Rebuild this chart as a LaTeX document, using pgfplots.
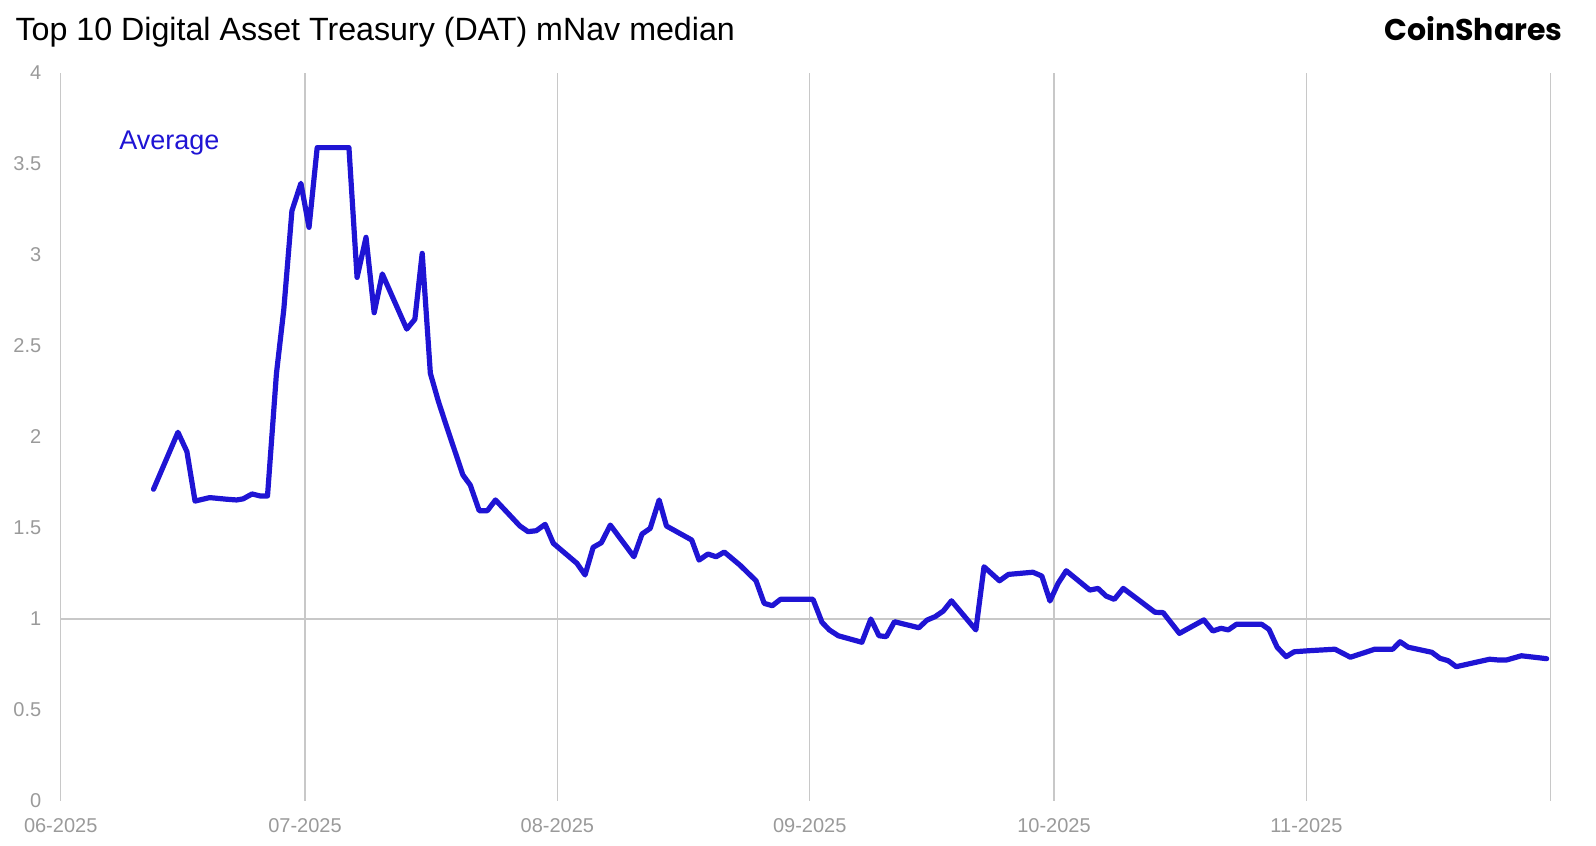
\documentclass[border=0pt]{standalone}
\usepackage{fontspec}
\setmainfont{Liberation Sans}
\newfontfamily\logofont{Poppins}
\usepackage{pgfplots}
\pgfplotsset{compat=1.18}
\definecolor{dline}{HTML}{1F14D4}
\definecolor{ticklab}{HTML}{9A9A9A}
\definecolor{gridc}{HTML}{C8C8C8}
\begin{document}
\begin{tikzpicture}
\path[use as bounding box] (0,0) rectangle (798pt,423pt);
\node[anchor=base west, inner sep=0pt] at (7.6pt,402.6pt) {\fontsize{16.1}{18}\selectfont Top 10 Digital Asset Treasury (DAT) mNav median};
\node[anchor=base east, inner sep=0pt] at (781.5pt,402.6pt) {\logofont\bfseries\fontsize{15}{18}\selectfont CoinShares};
\begin{axis}[
  at={(30.35pt,22.5pt)}, anchor=south west,
  scale only axis, width=745pt, height=364pt,
  xmin=0, xmax=183, ymin=0, ymax=4,
  axis line style={draw=none},
  major tick length=0pt,
  xtick={0,30,61,92,122,153,183},
  xticklabels={06-2025,07-2025,08-2025,09-2025,10-2025,11-2025,{}},
  ytick={0,0.5,1,1.5,2,2.5,3,3.5,4},
  yticklabels={0,0.5,1,1.5,2,2.5,3,3.5,4},
  xmajorgrids,
  grid style={gridc, line width=0.6pt},
  extra y ticks={1}, extra y tick labels={},
  extra y tick style={grid=major},
  /pgf/number format/assume math mode=true,
  tick label style={font=\fontsize{10}{12}\selectfont, text=ticklab},
  yticklabel style={inner sep=0pt, xshift=-9.5pt},
  xticklabel style={inner sep=0pt, yshift=-8.4pt},
  clip=false,
]
\addplot[dline, line width=2.6pt, line join=round, line cap=round] coordinates {
(11.4,1.713) (14.4,2.026) (15.5,1.92) (16.5,1.648) (18.3,1.667) (20.4,1.658)
(21.6,1.654) (22.4,1.66) (23.5,1.687) (24.5,1.676) (25.4,1.676) (26.5,2.35)
(27.4,2.70) (28.4,3.243) (29.5,3.394) (30.5,3.152) (31.5,3.59) (35.4,3.59)
(36.4,2.877) (37.5,3.097) (38.5,2.683) (39.5,2.896) (42.5,2.593) (43.5,2.647)
(44.4,3.009) (45.4,2.35) (46.4,2.194) (47.4,2.057) (49.4,1.791) (50.3,1.736)
(51.4,1.595) (52.4,1.595) (53.4,1.654) (56.4,1.511) (57.4,1.48) (58.4,1.485)
(59.5,1.52) (60.5,1.416) (63.4,1.306) (64.4,1.242) (65.4,1.394) (66.4,1.419)
(67.5,1.516) (70.4,1.342) (71.4,1.467) (72.4,1.498) (73.5,1.654) (74.4,1.511)
(77.5,1.434) (78.4,1.324) (79.5,1.357) (80.5,1.342) (81.5,1.368) (83.4,1.297)
(85.4,1.21) (86.4,1.086) (87.4,1.073) (88.4,1.108) (92.4,1.108) (93.5,0.982)
(94.4,0.94) (95.5,0.908) (98.4,0.872) (99.5,1.0) (100.5,0.908) (101.4,0.903)
(102.4,0.985) (105.4,0.952) (106.4,0.994) (107.4,1.013) (108.4,1.044) (109.4,1.1)
(112.4,0.94) (113.4,1.287) (115.3,1.21) (116.4,1.245) (119.4,1.257) (120.5,1.236)
(121.5,1.099) (122.5,1.196) (123.5,1.265) (126.4,1.159) (127.4,1.168) (128.4,1.126)
(129.4,1.108) (130.5,1.168) (134.4,1.037) (135.4,1.035) (137.4,0.921) (140.4,0.995)
(141.5,0.934) (142.5,0.949) (143.4,0.94) (144.4,0.971) (147.5,0.971) (148.4,0.943)
(149.4,0.845) (150.5,0.793) (151.5,0.82) (153.4,0.826) (156.5,0.834) (158.4,0.79)
(161.4,0.834) (163.6,0.834) (164.5,0.875) (165.5,0.845) (168.4,0.817) (169.4,0.784)
(170.4,0.771) (171.4,0.738) (175.5,0.779) (176.5,0.775) (177.6,0.775) (179.4,0.798)
(182.5,0.782)
};
\node[anchor=west, inner sep=0pt, text=dline, font=\fontsize{13.5}{15}\selectfont] at (axis cs:7.16,3.613) {Average};
\end{axis}
\end{tikzpicture}
\end{document}
